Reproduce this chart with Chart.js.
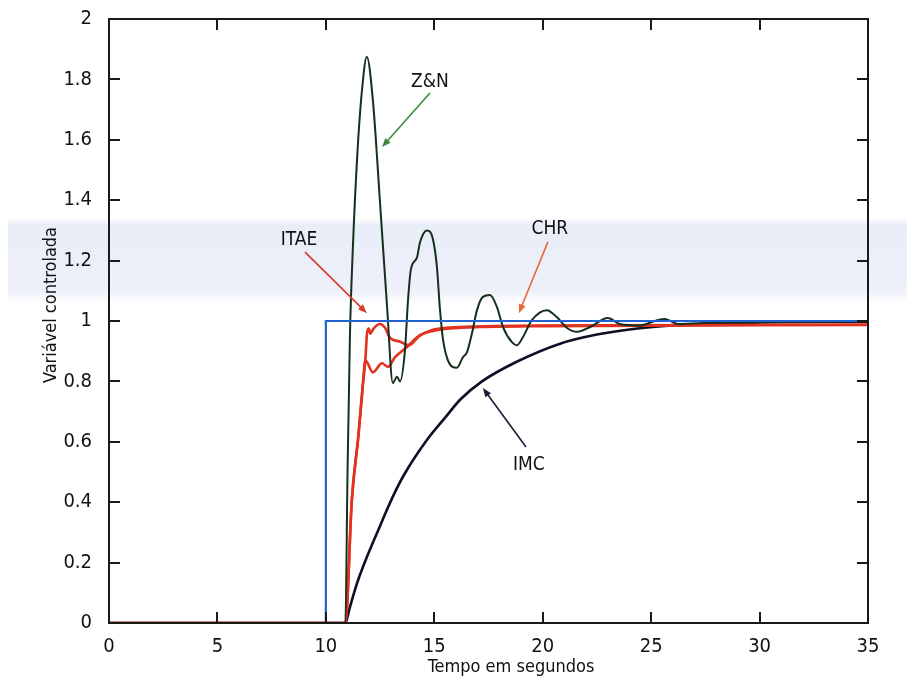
<!DOCTYPE html>
<html lang="pt">
<head>
<meta charset="utf-8">
<title>Resposta ao degrau - sintonias PID</title>
<script src="https://cdn.jsdelivr.net/npm/chart.js@4/dist/chart.umd.min.js"></script>
<style>
  html, body { margin: 0; padding: 0; background: #ffffff; }
  #wrap { width: 907px; height: 678px; }
</style>
</head>
<body>
<div id="wrap"><canvas id="resposta" width="907" height="678"></canvas></div>
<script>
// eixos
const ticksX = [0, 5, 10, 15, 20, 25, 30, 35];
const ticksY = [0, 0.2, 0.4, 0.6, 0.8, 1, 1.2, 1.4, 1.6, 1.8, 2];
const rotulosY = ['0', '0.2', '0.4', '0.6', '0.8', '1', '1.2', '1.4', '1.6', '1.8', '2'];

// setpoint (degrau em t = 10 s)
const setpointT = [0, 10, 10, 35];
const setpointY = [0, 0, 1, 1];

// Ziegler & Nichols
const znT = [0, 10.9, 11.0, 11.11, 11.25, 11.45, 11.66, 11.89, 12.17, 12.49, 12.82, 13.09, 13.28, 13.42, 13.65,
  13.79, 13.92, 14.2, 14.34, 14.66, 14.94, 15.12, 15.26, 15.4, 15.63, 16.04, 16.32, 16.51, 16.74, 16.97,
  17.24, 17.57, 17.89, 18.17, 18.58, 18.81, 19.09, 19.5, 20.19, 20.65, 21.12, 21.58, 22.18, 23.0, 23.56,
  24.48, 25.17, 25.63, 26.23, 28, 35];
const znY = [0, 0, 0.5, 0.95, 1.25, 1.55, 1.76, 1.875, 1.73, 1.4, 1.05, 0.795, 0.815, 0.8, 0.905,
  1.07, 1.17, 1.21, 1.26, 1.3, 1.27, 1.18, 1.04, 0.94, 0.87, 0.845, 0.88, 0.897, 0.96, 1.036,
  1.08, 1.086, 1.046, 0.98, 0.93, 0.92, 0.947, 1.003, 1.036, 1.013, 0.977, 0.964, 0.98, 1.01, 0.99,
  0.985, 1.0, 1.007, 0.99, 0.995, 0.998];

// ITAE
const itaeT = [0, 10.9, 11.2, 11.5, 11.72, 11.82, 11.9, 11.98, 12.05, 12.2, 12.5, 12.75, 12.95, 13.4, 13.85,
  14.3, 14.9, 15.7, 17, 20, 35];
const itaeY = [0, 0, 0.41, 0.62, 0.8, 0.87, 0.96, 0.975, 0.958, 0.975, 0.99, 0.975, 0.945, 0.932, 0.92,
  0.95, 0.97, 0.978, 0.982, 0.985, 0.988];

// CHR
const chrT = [0, 10.9, 11.2, 11.5, 11.72, 11.82, 12.17, 12.59, 12.86, 13.19, 13.74, 14.34, 14.94, 15.72, 17.1, 20, 35];
const chrY = [0, 0, 0.41, 0.62, 0.8, 0.87, 0.83, 0.86, 0.848, 0.88, 0.914, 0.953, 0.967, 0.975, 0.98, 0.983, 0.987];

// IMC
const imcT = [0, 10.9, 11.1, 11.3, 11.5, 11.9, 12.4, 13.1, 13.6, 14.7, 15.5, 16.2, 17.2, 18.8,
  20.8, 22.5, 24, 26, 28, 30, 35];
const imcY = [0, 0, 0.05, 0.1, 0.145, 0.22, 0.305, 0.42, 0.49, 0.61, 0.68, 0.74, 0.8, 0.865,
  0.925, 0.955, 0.972, 0.985, 0.99, 0.995, 0.998];

// rótulos das curvas: texto e seta (início -> ponta), em unidades dos eixos
const rotulos = [
  { texto: 'Z&N',  tx: 14.8,  ty: 1.79,  x1: 14.8,  y1: 1.755, x2: 12.59, y2: 1.576, cor: '#3d8a3d' },
  { texto: 'ITAE', tx: 8.76,  ty: 1.268, x1: 9.04,  y1: 1.228, x2: 11.89, y2: 1.026, cor: '#d8392a' },
  { texto: 'CHR',  tx: 20.33, ty: 1.305, x1: 20.24, y1: 1.262, x2: 18.9,  y2: 1.026, cor: '#e8683a' },
  { texto: 'IMC',  tx: 19.36, ty: 0.523, x1: 19.23, y1: 0.583, x2: 17.24, y2: 0.778, cor: '#1c1c3a' }
];

const fonte = '"Liberation Sans Narrow", "DejaVu Sans Condensed", "Arial Narrow", sans-serif';
const pontos = (ts, ys) => ts.map((t, i) => ({ x: t, y: ys[i] }));

function seta(ctx, ax, ay, bx, by, cor) {
  const ang = Math.atan2(by - ay, bx - ax);
  ctx.save();
  ctx.strokeStyle = cor;
  ctx.fillStyle = cor;
  ctx.lineWidth = 1.6;
  ctx.beginPath();
  ctx.moveTo(ax, ay);
  ctx.lineTo(bx - 5 * Math.cos(ang), by - 5 * Math.sin(ang));
  ctx.stroke();
  ctx.beginPath();
  ctx.moveTo(bx, by);
  ctx.lineTo(bx - 9 * Math.cos(ang) + 3.5 * Math.sin(ang), by - 9 * Math.sin(ang) - 3.5 * Math.cos(ang));
  ctx.lineTo(bx - 9 * Math.cos(ang) - 3.5 * Math.sin(ang), by - 9 * Math.sin(ang) + 3.5 * Math.cos(ang));
  ctx.closePath();
  ctx.fill();
  ctx.restore();
}

const moldura = {
  id: 'moldura',
  beforeDraw(chart) {
    // faixa azulada clara do fundo
    const ctx = chart.ctx;
    ctx.save();
    const g = ctx.createLinearGradient(0, 218, 0, 304);
    g.addColorStop(0, 'rgba(233,237,248,0)');
    g.addColorStop(0.08, 'rgba(233,237,248,1)');
    g.addColorStop(0.85, 'rgba(238,241,250,1)');
    g.addColorStop(1, 'rgba(242,244,251,0)');
    ctx.fillStyle = g;
    ctx.fillRect(8, 218, chart.width - 8, 86);
    ctx.restore();
  },
  afterDatasetsDraw(chart) {
    const { ctx, chartArea: a, scales: { x, y } } = chart;
    ctx.save();
    ctx.strokeStyle = '#1a1a1a';
    ctx.lineWidth = 2;
    ctx.strokeRect(a.left, a.top, a.right - a.left, a.bottom - a.top);
    ctx.beginPath();
    ticksX.slice(1, -1).forEach(v => {
      const px = Math.round(x.getPixelForValue(v));
      ctx.moveTo(px, a.bottom); ctx.lineTo(px, a.bottom - 11);
      ctx.moveTo(px, a.top); ctx.lineTo(px, a.top + 11);
    });
    ticksY.slice(1, -1).forEach(v => {
      const py = Math.round(y.getPixelForValue(v));
      ctx.moveTo(a.left, py); ctx.lineTo(a.left + 11, py);
      ctx.moveTo(a.right, py); ctx.lineTo(a.right - 11, py);
    });
    ctx.stroke();
    ctx.restore();
  },
  afterDraw(chart) {
    const { ctx, scales: { x, y } } = chart;
    ctx.save();
    ctx.fillStyle = '#111111';
    ctx.textAlign = 'center';
    ctx.textBaseline = 'middle';
    ctx.font = '19px ' + fonte;
    rotulos.forEach(r => {
      ctx.fillText(r.texto, x.getPixelForValue(r.tx), y.getPixelForValue(r.ty));
      seta(ctx, x.getPixelForValue(r.x1), y.getPixelForValue(r.y1),
        x.getPixelForValue(r.x2), y.getPixelForValue(r.y2), r.cor);
    });
    // títulos dos eixos
    ctx.font = '18px ' + fonte;
    ctx.fillText('Tempo em segundos', 511, 667);
    ctx.translate(51, 305);
    ctx.rotate(-Math.PI / 2);
    ctx.fillText('Variável controlada', 0, 0);
    ctx.restore();
  }
};

const linha = (label, ts, ys, cor, largura) => ({
  label,
  data: pontos(ts, ys),
  borderColor: cor,
  borderWidth: largura,
  pointRadius: 0,
  fill: false,
  cubicInterpolationMode: 'monotone'
});

new Chart(document.getElementById('resposta').getContext('2d'), {
  type: 'line',
  data: {
    datasets: [
      Object.assign(linha('Setpoint', setpointT, setpointY, '#2262d2', 2.2), { cubicInterpolationMode: 'default', tension: 0 }),
      linha('Z&N', znT, znY, '#15301a', 2),
      linha('ITAE', itaeT, itaeY, '#e0321f', 2.6),
      linha('CHR', chrT, chrY, '#e0321f', 2.6),
      linha('IMC', imcT, imcY, '#0e0e24', 2.6)
    ]
  },
  options: {
    responsive: false,
    animation: false,
    layout: { padding: { top: 19, right: 39, left: 0, bottom: 0 } },
    plugins: { legend: { display: false }, tooltip: { enabled: false } },
    scales: {
      x: {
        type: 'linear',
        min: 0,
        max: 35,
        grid: { display: false, drawTicks: false },
        border: { display: false },
        afterBuildTicks: s => { s.ticks = ticksX.map(v => ({ value: v })); },
        afterFit: s => { s.height = 55; s.paddingLeft = 0; s.paddingRight = 0; },
        ticks: {
          color: '#111111',
          padding: 12,
          maxRotation: 0,
          font: { family: fonte, size: 20 },
          callback: v => String(v)
        }
      },
      y: {
        type: 'linear',
        min: 0,
        max: 2,
        grid: { display: false, drawTicks: false },
        border: { display: false },
        afterBuildTicks: s => { s.ticks = ticksY.map(v => ({ value: v })); },
        afterFit: s => { s.width = 109; s.paddingTop = 0; s.paddingBottom = 0; },
        ticks: {
          color: '#111111',
          padding: 17,
          font: { family: fonte, size: 20 },
          callback: (v, i) => rotulosY[i]
        }
      }
    }
  },
  plugins: [moldura]
});
</script>
</body>
</html>
